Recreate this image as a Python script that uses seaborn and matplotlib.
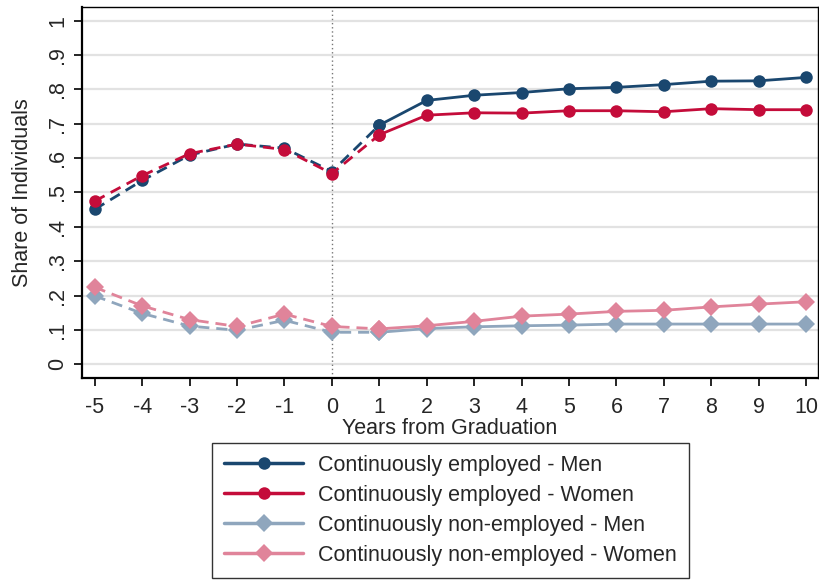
import matplotlib
matplotlib.use("Agg")
import matplotlib.pyplot as plt
from matplotlib.lines import Line2D
import pandas as pd
import seaborn as sns

years = list(range(-5, 11))
emp_men = [0.451, 0.535, 0.609, 0.641, 0.629, 0.561, 0.696, 0.768, 0.783, 0.791,
           0.802, 0.806, 0.814, 0.824, 0.825, 0.835]
emp_women = [0.475, 0.549, 0.613, 0.641, 0.625, 0.555, 0.668, 0.725, 0.732, 0.731,
             0.738, 0.738, 0.735, 0.744, 0.741, 0.741]
nonemp_men = [0.199, 0.148, 0.111, 0.099, 0.128, 0.093, 0.093, 0.104, 0.109, 0.112,
              0.114, 0.117, 0.117, 0.117, 0.117, 0.117]
nonemp_women = [0.224, 0.170, 0.130, 0.110, 0.146, 0.110, 0.103, 0.112, 0.125, 0.140,
                0.146, 0.154, 0.157, 0.167, 0.175, 0.182]

labels = ["Continuously employed - Men", "Continuously employed - Women",
          "Continuously non-employed - Men", "Continuously non-employed - Women"]
colors = ["#1a476f", "#c40c3a", "#8fa6bd", "#e0849a"]
markers = ["o", "o", "D", "D"]
msizes = [9, 9, 9, 9]

y_ticks = [0, 0.1, 0.2, 0.3, 0.4, 0.5, 0.6, 0.7, 0.8, 0.9, 1.0]
y_ticklabels = ["0", ".1", ".2", ".3", ".4", ".5", ".6", ".7", ".8", ".9", "1"]

rows = []
for lab, vals in zip(labels, [emp_men, emp_women, nonemp_men, nonemp_women]):
    for yr, v in zip(years, vals):
        rows.append({"year": yr, "share": v, "series": lab})
df = pd.DataFrame(rows)

sns.set_style("white")
plt.rcParams['font.family'] = ['Liberation Sans', 'DejaVu Sans']
fs = 15.5

fig = plt.figure(figsize=(8.19, 5.81), dpi=100)
ax = fig.add_axes([0.1001, 0.3494, 0.8987, 0.6386])

for y in y_ticks:
    ax.axhline(y, color="#e2e2e2", lw=1.6, zorder=0)
ax.axvline(0, color="#777777", lw=1, ls=(0, (1, 2)), zorder=1)

handles = []
for lab, col, mk, ms in zip(labels, colors, markers, msizes):
    sub = df[df["series"] == lab]
    # dashed before/around graduation, solid afterwards
    pre = sub[sub["year"] <= 1]
    post = sub[sub["year"] >= 1]
    sns.lineplot(data=pre, x="year", y="share", ax=ax, color=col, lw=2,
                 linestyle=(0, (4, 2.5)), marker=mk, markersize=ms,
                 markeredgewidth=0, zorder=3)
    sns.lineplot(data=post, x="year", y="share", ax=ax, color=col, lw=2,
                 marker=mk, markersize=ms, markeredgewidth=0, zorder=3)
    handles.append(Line2D([0], [0], color=col, lw=2.5, marker=mk,
                          markersize=ms, markeredgewidth=0))

ax.set_xlim(-5.27, 10.25)
ax.set_ylim(-0.04, 1.04)
ax.set_xticks(years)
ax.set_xticklabels([str(y) for y in years], fontsize=fs)
ax.set_yticks(y_ticks)
ax.set_yticklabels(y_ticklabels, fontsize=fs, rotation=90, va="center")
ax.tick_params(axis="both", direction="out", length=6, width=1.2, color="black",
               left=True, bottom=True)
ax.tick_params(axis="x", pad=8)
ax.tick_params(axis="y", pad=4)
ax.set_xlabel("Years from Graduation", fontsize=fs, labelpad=0)
ax.set_ylabel("Share of Individuals", fontsize=fs, labelpad=10)

for side in ["left", "bottom"]:
    ax.spines[side].set_linewidth(1.6)
    ax.spines[side].set_color("black")
for side in ["top", "right"]:
    ax.spines[side].set_linewidth(1.0)
    ax.spines[side].set_color("black")

leg = fig.legend(handles, labels, loc="upper center", bbox_to_anchor=(0.55, 0.2375),
                 fontsize=fs, frameon=True, fancybox=False, handlelength=3.7,
                 handletextpad=0.7, labelspacing=0.42, borderpad=0.55,
                 borderaxespad=0, numpoints=1)
leg.get_frame().set_edgecolor("black")
leg.get_frame().set_linewidth(1.0)

fig.savefig("out.png", dpi=100)
